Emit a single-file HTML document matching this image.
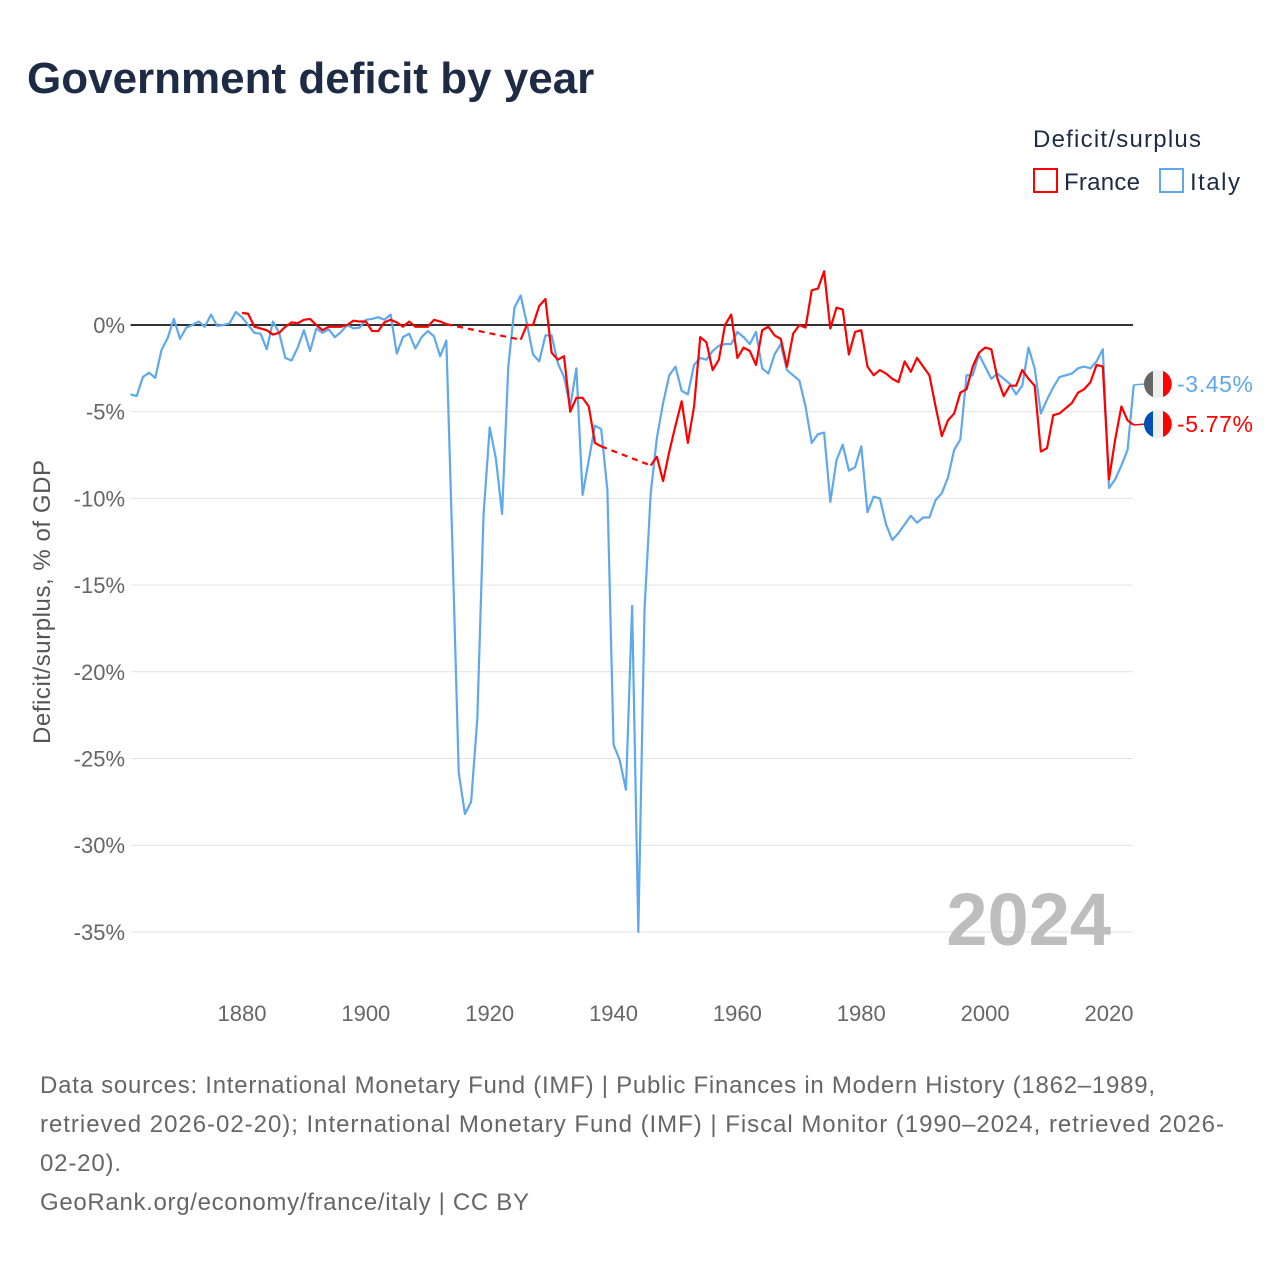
<!DOCTYPE html>
<html><head><meta charset="utf-8">
<style>
body{margin:0;background:#fff;font-family:"Liberation Sans",sans-serif;}
#wrap{position:relative;width:1280px;height:1280px;overflow:hidden;}
</style></head>
<body>
<div id="wrap">
<svg id="chart" width="1280" height="1280" xmlns="http://www.w3.org/2000/svg">
<text x="27" y="93" font-size="44" font-weight="bold" fill="#1d2b45">Government deficit by year</text>
<text x="1033" y="147" font-size="24" fill="#1d2b45" textLength="168">Deficit/surplus</text>
<g><rect x="1034" y="169" width="23" height="23" fill="none" stroke="#f00" stroke-width="2"/><text x="1064" y="190" font-size="24" fill="#1d2b45" textLength="76">France</text></g>
<g><rect x="1160" y="169" width="23" height="23" fill="none" stroke="#5ea8ec" stroke-width="2"/><text x="1190" y="190" font-size="24" fill="#1d2b45" textLength="50">Italy</text></g>
<g id="grid"></g>
<g id="yticks"></g>
<g id="xticks"></g>
<text transform="translate(50,602) rotate(-90)" text-anchor="middle" font-size="24" fill="#555" textLength="284">Deficit/surplus, % of GDP</text>
<text x="1111" y="945" text-anchor="end" font-size="74" font-weight="bold" fill="#bdbdbd">2024</text>
<g id="series"></g>
<g id="endlabels"></g>
<g font-size="24" fill="#666">
<text x="40" y="1093" textLength="1115">Data sources: International Monetary Fund (IMF) | Public Finances in Modern History (1862–1989,</text>
<text x="40" y="1132" textLength="1184">retrieved 2026-02-20); International Monetary Fund (IMF) | Fiscal Monitor (1990–2024, retrieved 2026-</text>
<text x="40" y="1171" textLength="81">02-20).</text>
<text x="40" y="1210" textLength="489">GeoRank.org/economy/france/italy | CC BY</text>
</g>
</svg>
</div>
<script>
const startYear = 1862;
const endYear = 2024;
const yTicks = [0,-5,-10,-15,-20,-25,-30,-35];
const yTickLabels = ["0%","-5%","-10%","-15%","-20%","-25%","-30%","-35%"];
const xTicks = [1880,1900,1920,1940,1960,1980,2000,2020];
const italyValues = [-4.0,-4.1,-3.0,-2.75,-3.05,-1.45,-0.75,0.35,-0.8,-0.15,0,0.2,-0.1,0.6,-0.05,0,0.1,0.75,0.45,
0,-0.45,-0.5,-1.4,0.2,-0.45,-1.9,-2.05,-1.3,-0.3,-1.5,-0.2,-0.45,-0.25,-0.7,-0.4,0,-0.2,-0.15,0.3,
0.35,0.45,0.3,0.6,-1.65,-0.7,-0.5,-1.35,-0.7,-0.35,-0.65,-1.8,-0.9,
-13,-25.8,-28.2,-27.5,-22.7,-11,-5.9,-7.7,-10.9,-2.4,1.0,1.7,0.1,-1.7,-2.1,-0.6,-0.6,-2.2,-3.0,-4.7,-2.5,-9.8,-7.8,-5.8,-6.0,-9.5,-24.2,-25.1,-26.8,-16.2,-35.0,-16.4,-9.7,-6.5,-4.5,
-2.9,-2.4,-3.8,-4.0,-2.3,-1.9,-2.0,-1.5,-1.2,-1.1,-1.1,-0.4,-0.7,-1.1,-0.4,-2.5,-2.8,-1.7,-1.1,-2.6,-2.9,-3.2,-4.7,-6.8,-6.3,-6.2,-10.2,-7.8,-6.9,-8.4,-8.2,-7.0,-10.8,-9.9,-10.0,
-11.5,-12.4,-12.0,-11.5,-11.0,-11.4,-11.1,-11.1,-10.1,-9.7,-8.8,-7.2,-6.6,-2.9,-2.9,-1.7,-2.4,-3.1,-2.8,-3.1,-3.4,-4.0,-3.5,-1.3,-2.5,-5.1,-4.3,-3.6,-3.0,-2.9,-2.8,-2.5,-2.4,-2.5,-2.1,-1.4,-9.4,-8.9,-8.1,-7.2,-3.45];
const franceStart = 1880;
const franceValues = [0.7,0.65,-0.1,-0.2,-0.3,-0.55,-0.45,-0.1,0.15,0.1,0.3,0.35,0,-0.3,-0.1,-0.1,-0.1,0,0.25,0.2,0.2,-0.35,-0.35,0.15,0.3,0.15,-0.1,0.2,-0.1,-0.1,-0.1,0.3,0.2,0.05,
null,null,null,null,null,null,null,null,null,null,null,
-0.85,0,0,1.1,1.5,-1.6,-2.0,-1.8,-5.0,-4.2,-4.2,-4.7,-6.8,-7.0,
null,null,null,null,null,null,null,
-8.1,-7.6,-9.0,-7.3,-5.8,-4.4,-6.8,-4.7,-0.7,-1.0,-2.6,-2.0,0,0.6,-1.9,-1.3,-1.5,-2.3,-0.3,-0.1,-0.6,-0.8,-2.4,-0.5,0,-0.15,2.0,2.1,3.1,-0.2,1.0,0.9,-1.7,-0.4,-0.3,
-2.4,-2.9,-2.6,-2.8,-3.1,-3.3,-2.1,-2.7,-1.9,-2.4,-2.9,-4.7,-6.4,-5.5,-5.1,-3.9,-3.7,-2.4,-1.6,-1.3,-1.4,-3.1,-4.1,-3.5,-3.5,-2.6,-3.1,-3.5,-7.3,-7.1,-5.2,-5.1,-4.8,-4.5,-3.9,-3.7,-3.3,-2.3,-2.4,-8.9,-6.6,-4.7,-5.5,-5.77];
const endLabelTexts = ["-3.45%","-5.77%"];

const NS="http://www.w3.org/2000/svg";
const X0=130.5, XPY=6.193, Y0=325, YPP=17.34, XR=1133;
function xs(yr){return X0+(yr-startYear)*XPY;}
function ys(v){return Y0-v*YPP;}
function mk(tag,attrs,parent){const e=document.createElementNS(NS,tag);for(const k in attrs)e.setAttribute(k,attrs[k]);parent.appendChild(e);return e;}

const grid=document.getElementById('grid'), yt=document.getElementById('yticks'), xt=document.getElementById('xticks');
yTicks.forEach((t,i)=>{
  if(t!==0){const l=mk('line',{x1:X0,x2:XR,y1:ys(t),y2:ys(t),stroke:'#e2e2e2','stroke-width':1},grid);
  
  }
  const tx=mk('text',{x:125,y:ys(t)+8,'text-anchor':'end','font-size':22,fill:'#666'},yt);
  tx.textContent=yTickLabels[i];
  
  
});
xTicks.forEach(t=>{
  const tx=mk('text',{x:xs(t),y:1021,'text-anchor':'middle','font-size':22,fill:'#666'},xt);
  tx.textContent=t;
  
  
});
const zl=mk('line',{x1:X0,x2:XR,y1:Y0,y2:Y0,stroke:'#333','stroke-width':2},grid);



const sg=document.getElementById('series');
function drawSeries(vals,start,color,name){
  let segs=[],cur=[];
  vals.forEach((v,i)=>{if(v===null){if(cur.length)segs.push(cur);cur=[];}else cur.push([xs(start+i),ys(v)]);});
  if(cur.length)segs.push(cur);
  for(let s=0;s<segs.length;s++){
    const p=mk('polyline',{points:segs[s].map(q=>q.join(',')).join(' '),fill:'none',stroke:color,'stroke-width':2.2,'stroke-linejoin':'round'},sg);
    
    
    if(s>0){const a=segs[s-1][segs[s-1].length-1],b=segs[s][0];
      const d=mk('line',{x1:a[0],y1:a[1],x2:b[0],y2:b[1],stroke:color,'stroke-width':2.2,'stroke-dasharray':'6,5'},sg);
      
      }
  }
}
drawSeries(italyValues,startYear,'#5ea8ec','italy');
drawSeries(franceValues,franceStart,'#f00','france');

const el=document.getElementById('endlabels');
function endLabel(v,text,color,left,name,ly){
  const ex=xs(endYear), ey=ys(v);
  const c=mk('line',{x1:ex,y1:ey,x2:1146,y2:ly,stroke:color,'stroke-width':1.5},el);
  
  
  const g=mk('g',{},el);
  
  
  mk('path',{d:`M1158,${ly-14} A14,14 0 0 0 1158,${ly+14} Z`,fill:left},g);
  mk('rect',{x:1153,y:ly-14,width:10,height:28,fill:'#eee'},g);
  mk('path',{d:`M1163,${ly-13} A14,14 0 0 1 1163,${ly+13} Z`,fill:'#f00'},g);
  const t=mk('text',{x:1177,y:ly+8,'font-size':23,fill:color,textLength:76},el);
  t.textContent=text;
  
  
}
endLabel(italyValues[italyValues.length-1],endLabelTexts[0],'#5ea8ec','#666','italy',384);
endLabel(franceValues[franceValues.length-1],endLabelTexts[1],'#f00','#0050b5','france',424);
</script>
</body></html>
